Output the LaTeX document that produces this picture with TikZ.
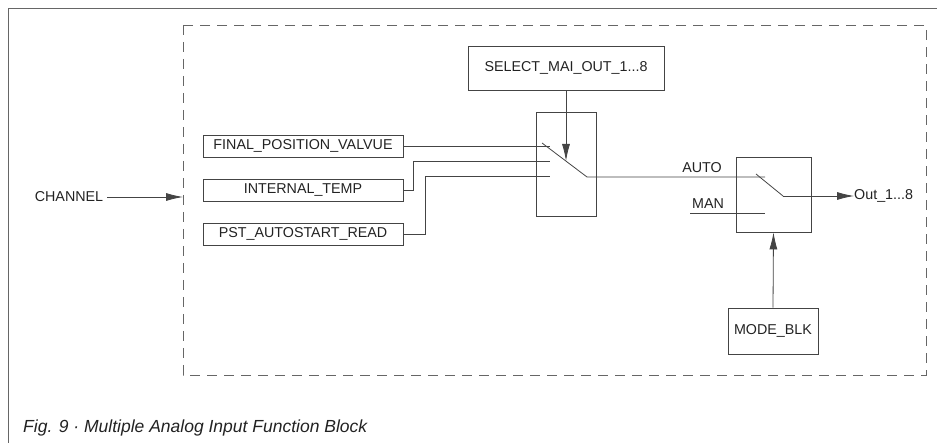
\documentclass[tikz,border=0pt]{standalone}
\usepackage{fontspec}
\setmainfont{Liberation Sans}
\usetikzlibrary{arrows.meta}
\definecolor{ln}{HTML}{444444}
\definecolor{fr}{HTML}{666666}
\definecolor{tx}{HTML}{222222}
\begin{document}
\begin{tikzpicture}[x=1pt,y=-1pt,
  every node/.style={font=\fontsize{14.3}{16}\selectfont, text=tx, inner sep=0pt},
  blk/.style={draw=ln, line width=0.8pt, rectangle},
  wire/.style={draw=ln, line width=0.8pt},
  arr/.style={wire, -{Latex[length=17pt,width=8pt]}},
  frame/.style={draw=fr, line width=0.9pt},
  dbox/.style={draw=fr, line width=0.9pt, dash pattern=on 10pt off 7pt}]
\useasboundingbox (0,0) rectangle (937,443);
% outer frame
\draw[frame] (8,443) -- (8,8) -- (937,8);
% dashed function block
\draw[dbox] (183,25) rectangle (926,375);
% boxes
\node[blk, minimum width=200pt, minimum height=22pt] (fpv) at (303,146) {FINAL\_POSITION\_VALVUE};
\node[blk, minimum width=200pt, minimum height=22pt] (itemp) at (303,190) {INTERNAL\_TEMP};
\node[blk, minimum width=200pt, minimum height=22pt] (pst) at (303,234) {PST\_AUTOSTART\_READ};
\node[blk, minimum width=196pt, minimum height=44pt] (sel) at (566,68) {SELECT\_MAI\_OUT\_1...8};
\node[blk, minimum width=60pt, minimum height=104pt] (sw1) at (566,164) {};
\node[blk, minimum width=75pt, minimum height=75pt] (sw2) at (773.5,194.5) {};
\node[blk, minimum width=90pt, minimum height=46pt] (mode) at (773,331) {MODE\_BLK};
% labels
\node (chan) at (69,197) {CHANNEL};
\node (auto) at (702,168) {AUTO};
\node (man) at (708,204) {MAN};
\node[anchor=west] (out) at (854,196) {Out\_1...8};
\node[anchor=base west, font=\itshape\fontsize{17.5}{19}\selectfont] (cap) at (23,432) {Fig. 9 · Multiple Analog Input Function Block};
% coordinates
\coordinate (chend) at (183,197);
\coordinate (c1) at (550,146);
\coordinate (c2) at (550,161);
\coordinate (c3) at (550,176);
\coordinate (b1s) at (542,143);
\coordinate (b1e) at (587,177);
\coordinate (seltip) at (566,161);
\coordinate (a2) at (765,177);
\coordinate (m1) at (690,213);
\coordinate (m2) at (765,213);
\coordinate (b2s) at (756,174);
\coordinate (b2e) at (783,196);
% connectors
\draw[arr] (chan.east) ++(4,0) -- (chend);
\draw[wire] (fpv.east) -- (c1);
\draw[wire] (itemp.east) -- (413,190) -- (413,161) -- (c2);
\draw[wire] (pst.east) -- (425,234) -- (425,176) -- (c3);
\draw[wire] (b1s) -- (b1e) -- (a2);
\draw[arr] (sel.south) -- (seltip);
\draw[wire] (m1) -- (m2);
\draw[wire] (b2s) -- (b2e);
\draw[arr] (b2e) -- (out.west);
\draw[arr] (mode.north) -- (sw2.south);
\end{tikzpicture}
\end{document}
